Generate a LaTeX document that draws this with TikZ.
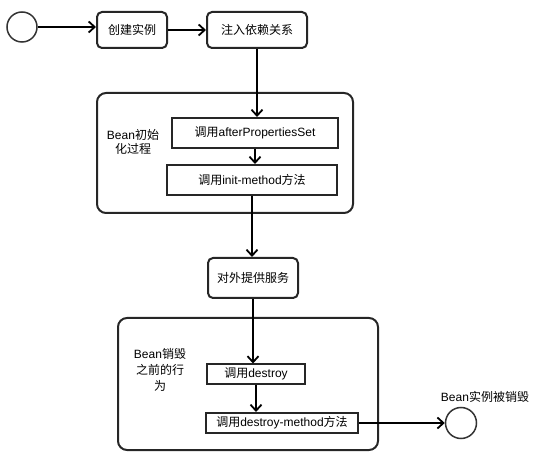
\documentclass[tikz,border=0pt]{standalone}
\usepackage{fontspec}
\setmainfont{Liberation Sans}
\newfontfamily\cjk{Noto Sans CJK SC}
\usetikzlibrary{arrows.meta}
\begin{document}
\begin{tikzpicture}[x=1pt,y=-1pt,
  every node/.style={font=\fontsize{12}{14}\selectfont, inner sep=0pt},
  rbox/.style={draw=black!85, line width=2pt, fill=white, rounded corners=5pt},
  sbox/.style={draw=black!85, line width=2pt, fill=white},
  grp/.style={draw=black!85, line width=2pt, rounded corners=9pt},
  term/.style={draw=black!80, line width=1.5pt, circle, fill=white},
  arr/.style={line width=2pt, draw=black, -{Straight Barb[length=6pt,width=11pt,line width=1.8pt]}}]
\useasboundingbox (0,0) rectangle (536,457);
% groups
\node[grp, minimum width=256pt, minimum height=120pt] (g1) at (225,153) {};
\node[grp, minimum width=260pt, minimum height=132pt] (g2) at (248,384) {};
\node[align=center] (l1) at (133,142) {Bean{\cjk 初始}\\{\cjk 化过程}};
\node[align=center, font=\fontsize{12}{16}\selectfont] (l2) at (160,370) {Bean{\cjk 销毁}\\{\cjk 之前的行}\\{\cjk 为}};
% nodes
\node[term, minimum size=30pt] (start) at (22,27) {};
\node[rbox, minimum width=70pt, minimum height=36pt] (create) at (132,30) {\cjk 创建实例};
\node[rbox, minimum width=100pt, minimum height=36pt] (inject) at (257,30) {\cjk 注入依赖关系};
\node[sbox, minimum width=166pt, minimum height=30pt] (after) at (255,133) {{\cjk 调用}afterPropertiesSet};
\node[sbox, minimum width=170pt, minimum height=30pt] (init) at (252,180) {{\cjk 调用}init-method{\cjk 方法}};
\node[rbox, minimum width=90pt, minimum height=40pt] (serve) at (253,278) {\cjk 对外提供服务};
\node[sbox, minimum width=98pt, minimum height=19pt] (destroy) at (256,374) {{\cjk 调用}destroy};
\node[sbox, minimum width=152pt, minimum height=20pt] (dm) at (282,423) {{\cjk 调用}destroy-method{\cjk 方法}};
\node[term, minimum size=31pt] (end) at (461,423) {};
\node (endlabel) at (485,397) {Bean{\cjk 实例被销毁}};
% connectors
\draw[arr] (start.east) -- (start.east -| create.west);
\draw[arr] (create) -- (inject);
\draw[arr] (inject.south) -- (inject.south |- after.north);
\draw[arr] (after.south) -- (after.south |- init.north);
\draw[arr] (init.south) -- (init.south |- serve.north);
\draw[arr] (serve.south) -- (serve.south |- destroy.north);
\draw[arr] (destroy.south) -- (destroy.south |- dm.north);
\draw[arr] (dm.east) -- (end.west);
\end{tikzpicture}
\end{document}
